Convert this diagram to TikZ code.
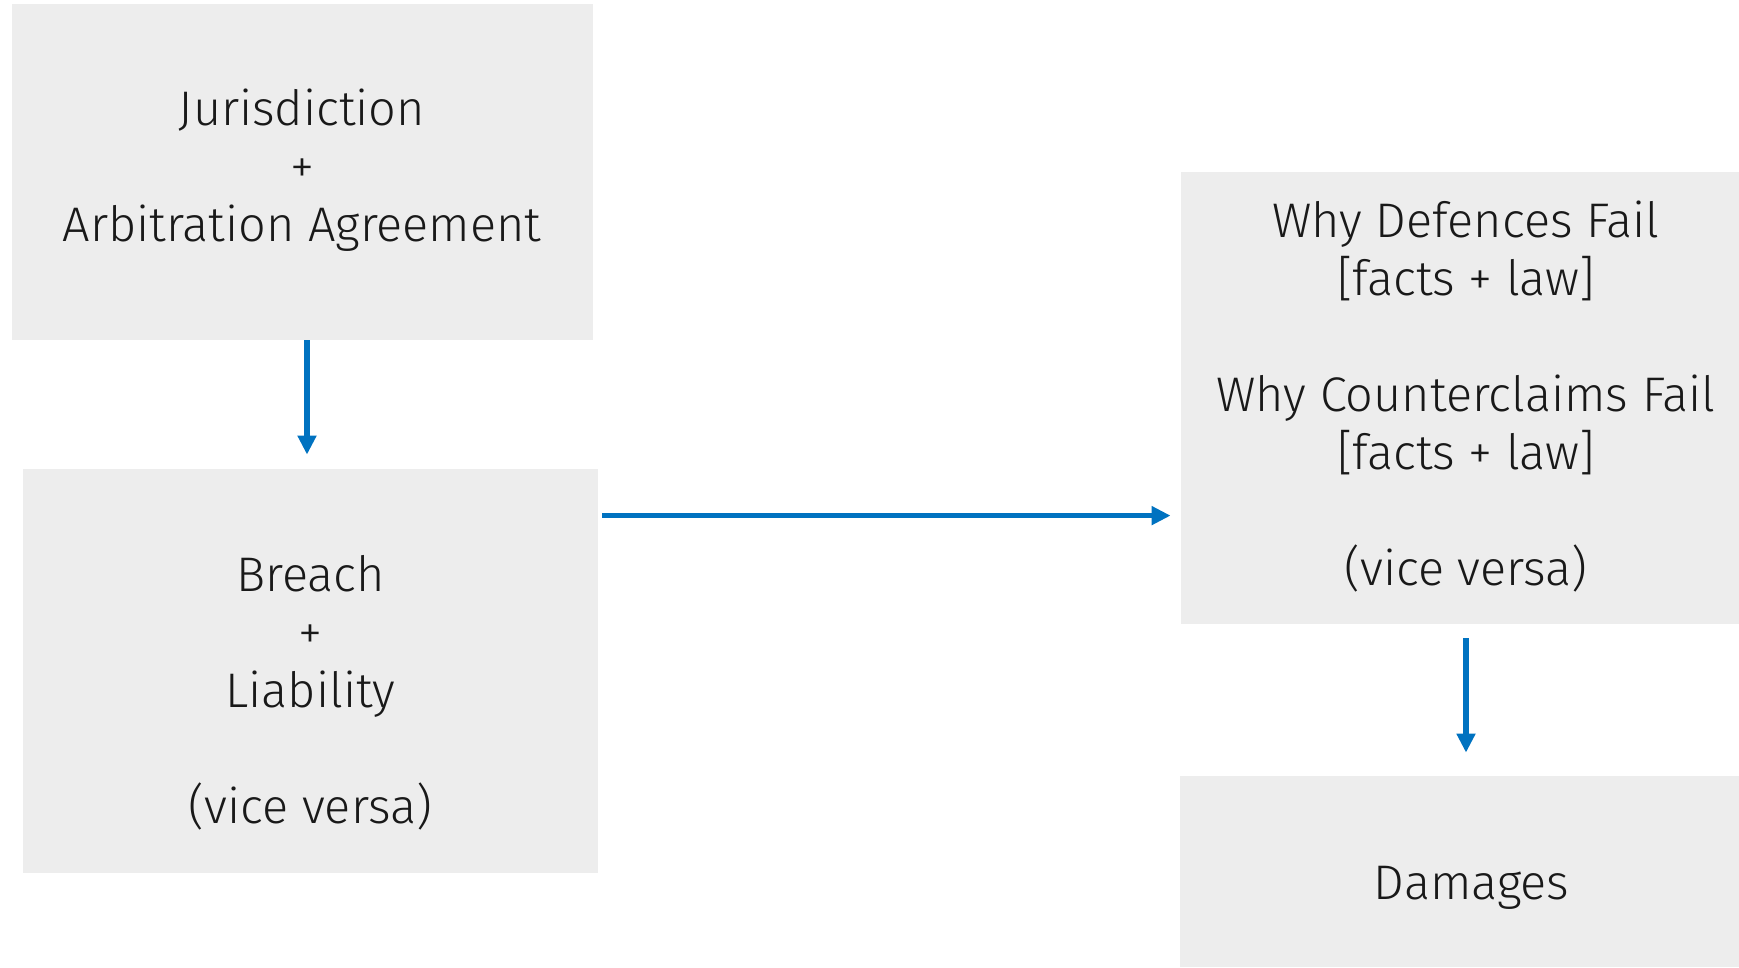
\documentclass[tikz,border=0pt]{standalone}
\usepackage{fontspec}
\setmainfont{Fira Sans Light}
\usetikzlibrary{arrows.meta}
\definecolor{boxgray}{RGB}{237,237,237}
\definecolor{arrblue}{RGB}{0,114,192}
\tikzset{
  box/.style={fill=boxgray, draw=none, inner sep=0pt},
  txt/.style={align=center, inner sep=0pt, text=black!90, font=\fontsize{24.3bp}{29bp}\selectfont},
  arr/.style={draw=arrblue, line width=2.6bp, -{Triangle[length=9.5bp,width=9bp]}}
}
\begin{document}
\begin{tikzpicture}[x=0.5bp,y=-0.5bp]
\useasboundingbox (0,0) rectangle (1739,967);
\node[box, minimum width=290.5bp, minimum height=168bp] (b1) at (302.5,172) {};
\node[box, minimum width=287.5bp, minimum height=202bp] (b2) at (310.5,671) {};
\node[box, minimum width=279bp, minimum height=226bp] (b3) at (1460,398) {};
\node[box, minimum width=279.5bp, minimum height=95.5bp] (b4) at (1459.5,871.5) {};
\node[txt] (t1) at (302,170.5) {Jurisdiction\\+\\Arbitration Agreement};
\node[txt] (t2) at (310.5,692.5) {Breach\\+\\Liability\\[29bp](vice versa)};
\node[txt] (t3) at (1466,396.5) {Why Defences Fail\\{}[facts + law]\\[29bp]Why Counterclaims Fail\\{}[facts + law]\\[29bp](vice versa)};
\node[txt] (t4) at (1471.6,887.5) {Damages};
\coordinate (a1s) at ([xshift=2.25bp]b1.south);
\coordinate (a1e) at ([xshift=2.25bp,yshift=7bp]b1.south |- b2.north);
\draw[arr] (a1s) -- (a1e);
\coordinate (a2s) at ([xshift=2bp,yshift=-23.5bp]b2.north east);
\coordinate (a2e) at ([xshift=-5bp]b3.west |- a2s);
\draw[arr] (a2s) -- (a2e);
\coordinate (a3s) at ([xshift=3bp,yshift=-7bp]b3.south);
\coordinate (a3e) at ([xshift=3bp,yshift=11.5bp]b3.south |- b4.north);
\draw[arr] (a3s) -- (a3e);
\end{tikzpicture}
\end{document}
